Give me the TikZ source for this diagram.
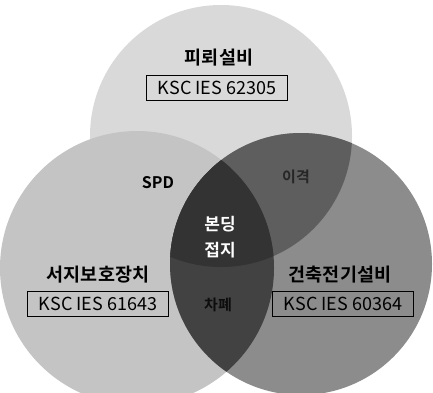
\documentclass[tikz,border=0pt]{standalone}
\usepackage{fontspec}
\setmainfont{Noto Sans CJK KR}[BoldFont={Noto Sans CJK KR Bold}]
\begin{document}
\begin{tikzpicture}[x=1pt,y=-1pt,
  lbl/.style={font=\fontsize{18.5}{20}\selectfont\bfseries, inner sep=0pt},
  std/.style={draw=black, line width=0.8pt, font=\fontsize{18}{20}\selectfont, inner xsep=3pt, inner ysep=1pt, minimum width=141pt, minimum height=25pt},
  small/.style={font=\fontsize{15}{17}\selectfont\bfseries, inner sep=0pt}]
\useasboundingbox (0,0) rectangle (433,392);
\fill[white] (0,0) rectangle (433,392);
\coordinate (T) at (221,136);
\coordinate (L) at (137,268);
\coordinate (R) at (301,264);
\fill[black!15] (T) circle[radius=131];
\fill[black!23] (L) circle[radius=137];
\fill[black!45] (R) circle[radius=131];
\begin{scope}
  \clip (R) circle[radius=131];
  \fill[black!63] (T) circle[radius=131];
  \fill[black!74] (L) circle[radius=137];
  \clip (L) circle[radius=137];
  \fill[black!80] (T) circle[radius=131];
\end{scope}
\node[lbl] (toplbl) at (219,58) {피뢰설비};
\node[std] (topstd) at (217,88) {KSC IES 62305};
\node[small, font=\fontsize{16}{18}\selectfont\bfseries] (spd) at (158,183) {SPD};
\node[small, black!85] (sep) at (296,177) {이격};
\node[lbl, white, align=center, font=\fontsize{17}{26}\selectfont\bfseries] (bond) at (220,237) {본딩\\접지};
\node[lbl] (leftlbl) at (98,275) {서지보호장치};
\node[std] (leftstd) at (98,304) {KSC IES 61643};
\node[small, black!95] (shield) at (218,305) {차폐};
\node[lbl] (rightlbl) at (340,275) {건축전기설비};
\node[std] (rightstd) at (343,304) {KSC IES 60364};
\end{tikzpicture}
\end{document}
